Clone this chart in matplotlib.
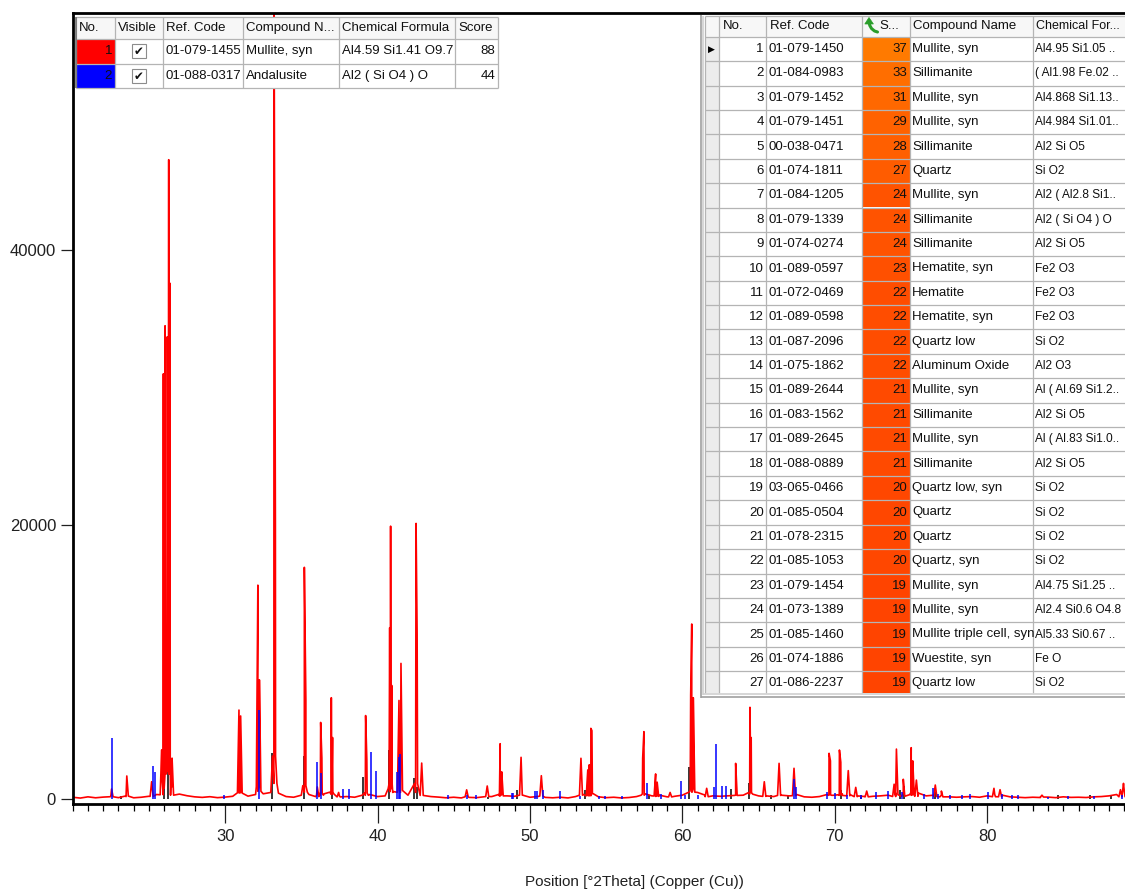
import numpy as np
import matplotlib
matplotlib.use("Agg")
import matplotlib.pyplot as plt
from matplotlib.patches import Rectangle, Polygon
from matplotlib.ticker import MultipleLocator, FixedLocator

# ------------------------------------------------------------------ data
# background samples of the observed scan (every 0.5 deg from 20 to 89)
base_y = [150, 90, 180, 110, 160, 200, 120, 200, 110, 150, 220, 350, 800, 900,
          380, 260, 180, 140, 190, 120, 160, 220, 600, 230, 350, 400, 500, 450,
          200, 150, 300, 350, 300, 400, 350, 250, 200, 150, 300, 350, 200, 250,
          500, 500, 300, 500, 300, 200, 160, 110, 150, 100, 140, 120, 180, 200,
          250, 250, 220, 300, 150, 200, 140, 110, 150, 100, 200, 350, 400, 180,
          120, 150, 100, 130, 200, 350, 250, 300, 180, 220, 300, 600, 500, 300,
          250, 220, 250, 300, 300, 500, 250, 250, 200, 300, 250, 350, 180, 150,
          200, 350, 300, 400, 350, 250, 200, 220, 250, 300, 450, 500, 500, 450,
          250, 300, 300, 180, 150, 180, 200, 150, 250, 350, 300, 180, 150, 120,
          150, 130, 160, 120, 180, 140, 150, 130, 180, 200, 250, 350, 600]
base_x = np.arange(20.0, 89.01, 0.5)

# observed peaks (position deg 2theta, counts)
obs_pos = [22.55, 23.55, 25.18, 25.84, 25.95, 26.06, 26.21, 26.30, 26.38, 26.52,
           30.91, 31.02, 32.15, 32.25, 33.21, 33.30, 35.20, 35.30, 36.05, 36.27,
           36.35, 36.97, 37.05, 37.45, 39.22, 39.30, 40.80, 40.86, 40.93, 41.41,
           41.54, 42.53, 42.60, 42.90, 45.85, 47.20, 48.05, 48.15, 49.42, 50.75,
           53.35, 53.80, 53.90, 54.00, 54.07, 57.40, 57.48, 58.25, 58.35, 59.20,
           60.55, 60.62, 60.72, 61.60, 63.50, 64.44, 64.52, 65.38, 66.35, 67.33,
           69.63, 69.72, 70.31, 70.40, 70.89, 71.38, 72.10, 73.90, 74.05, 74.50,
           75.02, 75.12, 75.36, 76.60, 77.00, 80.45, 80.85, 83.60, 88.75, 88.95]
obs_cnt = [750, 1700, 1280, 3600, 31000, 34500, 33700, 46600, 37600, 3000,
           6500, 6070, 15600, 8700, 60000, 20100, 16900, 7200, 900, 5600,
           3000, 7400, 4500, 500, 6100, 2900, 12500, 19900, 8300, 7200,
           9900, 20100, 12000, 2640, 690, 970, 4050, 2000, 3060, 1720,
           2990, 2140, 2500, 5170, 5000, 2990, 4930, 1850, 1250, 500,
           7600, 12770, 7400, 800, 2620, 6700, 4500, 1280, 2620, 2260,
           3350, 2800, 3590, 2700, 2090, 870, 600, 1100, 3660, 1460,
           3760, 2800, 1400, 1040, 600, 800, 700, 300, 700, 1160]

# reference 2: Andalusite (blue sticks)
and_pos = [22.60, 25.25, 25.40, 29.95, 32.20, 36.03, 36.30, 37.72, 38.13, 39.57,
           39.90, 41.26, 41.41, 41.48, 44.60, 45.85, 46.46, 48.80, 48.90, 50.34,
           50.45, 50.88, 51.98, 53.29, 54.56, 54.93, 56.02, 57.66, 58.60, 59.92,
           60.20, 61.00, 62.10, 62.21, 62.58, 62.87, 67.30, 67.45, 69.47, 70.00,
           70.78, 71.70, 72.74, 73.52, 74.44, 75.88, 76.47, 76.79, 77.58, 78.37,
           78.89, 80.06, 80.98, 81.63, 82.02, 84.00, 85.30, 86.99, 88.82]
and_cnt = [4490, 2430, 2010, 300, 6500, 2700, 1900, 750, 750, 3440,
           2090, 2000, 3080, 3300, 300, 350, 300, 480, 480, 630,
           630, 680, 630, 250, 250, 250, 250, 1170, 400, 1360,
           300, 300, 920, 4030, 990, 990, 1480, 900, 500, 450,
           300, 300, 500, 600, 500, 400, 800, 400, 300, 300,
           400, 500, 400, 300, 300, 200, 250, 250, 350]

# reference 1: Mullite (dark sticks)
mul_pos = [23.20, 25.97, 26.27, 33.10, 35.16, 37.00, 39.07, 40.75, 42.42, 42.57,
           47.27, 49.17, 53.64, 57.80, 60.46, 63.18, 64.38, 65.82, 66.95, 70.39,
           71.70, 74.31, 74.57, 76.58, 84.63, 86.72, 88.16]
mul_cnt = [250, 5000, 6000, 3400, 3150, 820, 1650, 3600, 1550, 920,
           200, 680, 680, 300, 2380, 730, 1190, 350, 300, 680,
           300, 700, 1000, 500, 300, 300, 300]

y_ticks = [0, 20000, 40000]
x_ticks = [30, 40, 50, 60, 70, 80]
x_label = "Position [°2Theta] (Copper (Cu))"

# accepted phases table
sel_no = [1, 2]
sel_ref = ["01-079-1455", "01-088-0317"]
sel_name = ["Mullite, syn", "Andalusite"]
sel_formula = ["Al4.59 Si1.41 O9.7", "Al2 ( Si O4 ) O"]
sel_score = [88, 44]
sel_headers = ["No.", "Visible", "Ref. Code", "Compound N...", "Chemical Formula", "Score"]

# candidate list table
cand_ref = ["01-079-1450", "01-084-0983", "01-079-1452", "01-079-1451", "00-038-0471",
            "01-074-1811", "01-084-1205", "01-079-1339", "01-074-0274", "01-089-0597",
            "01-072-0469", "01-089-0598", "01-087-2096", "01-075-1862", "01-089-2644",
            "01-083-1562", "01-089-2645", "01-088-0889", "03-065-0466", "01-085-0504",
            "01-078-2315", "01-085-1053", "01-079-1454", "01-073-1389", "01-085-1460",
            "01-074-1886", "01-086-2237"]
cand_score = [37, 33, 31, 29, 28, 27, 24, 24, 24, 23, 22, 22, 22, 22, 21, 21, 21, 21,
              20, 20, 20, 20, 19, 19, 19, 19, 19]
cand_name = ["Mullite, syn", "Sillimanite", "Mullite, syn", "Mullite, syn", "Sillimanite",
             "Quartz", "Mullite, syn", "Sillimanite", "Sillimanite", "Hematite, syn",
             "Hematite", "Hematite, syn", "Quartz low", "Aluminum Oxide", "Mullite, syn",
             "Sillimanite", "Mullite, syn", "Sillimanite", "Quartz low, syn", "Quartz",
             "Quartz", "Quartz, syn", "Mullite, syn", "Mullite, syn",
             "Mullite triple cell, syn", "Wuestite, syn", "Quartz low"]
cand_formula = ["Al4.95 Si1.05 ..", "( Al1.98 Fe.02 ..", "Al4.868 Si1.13..",
                "Al4.984 Si1.01..", "Al2 Si O5", "Si O2", "Al2 ( Al2.8 Si1..",
                "Al2 ( Si O4 ) O", "Al2 Si O5", "Fe2 O3", "Fe2 O3", "Fe2 O3", "Si O2",
                "Al2 O3", "Al ( Al.69 Si1.2..", "Al2 Si O5", "Al ( Al.83 Si1.0..",
                "Al2 Si O5", "Si O2", "Si O2", "Si O2", "Si O2", "Al4.75 Si1.25 ..",
                "Al2.4 Si0.6 O4.8", "Al5.33 Si0.67 ..", "Fe O", "Si O2"]
cand_headers = ["No.", "Ref. Code", "S...", "Compound Name", "Chemical For..."]

# ------------------------------------------------------------------ figure
W, H = 1125, 890
fig = plt.figure(figsize=(W / 100, H / 100), dpi=100)
fig.patch.set_facecolor("white")

ax_l, ax_r, ax_t, ax_b = 72.7, 1125, 13, 804.3
ax = fig.add_axes([ax_l / W, 1 - ax_b / H, (ax_r - ax_l) / W, (ax_b - ax_t) / H])
ax.set_xlim(20, 20 + (ax_r - ax_l) / 15.24)
ax.set_ylim(-364, 57290)

# observed scan as one polyline: background samples + narrow peak profiles
hw = 0.1
pts = list(zip(base_x, base_y))
for p, h in zip(obs_pos, obs_cnt):
    foot = 150 + 0.05 * h
    pts += [(p - hw, foot), (p, h), (p + hw, foot)]
pts.sort(key=lambda t: t[0])
px, py = zip(*pts)

ax.vlines(mul_pos, 0, mul_cnt, color="#000000", lw=1.1, zorder=1.5)
ax.plot(px, py, color="#ff0000", lw=1.2, zorder=2)
ax.vlines(and_pos, 0, and_cnt, color="#0000ff", lw=1.1, zorder=3)

for s in ["left", "bottom", "top"]:
    ax.spines[s].set_linewidth(2.0)
    ax.spines[s].set_color("black")
ax.spines["right"].set_visible(False)

ax.xaxis.set_major_locator(FixedLocator(x_ticks))
ax.xaxis.set_minor_locator(MultipleLocator(1))
ax.yaxis.set_major_locator(FixedLocator(y_ticks))
ax.set_xticklabels([str(v) for v in x_ticks])
ax.set_yticklabels([str(v) for v in y_ticks])
ax.tick_params(axis="x", which="major", direction="out", length=14, width=0.9,
               labelsize=12, pad=4, colors="#202020")
ax.tick_params(axis="x", which="minor", direction="out", length=5, width=0.9)
ax.tick_params(axis="y", which="major", direction="out", length=9, width=0.9,
               labelsize=12, pad=3, colors="#202020")
for lab in ax.get_xticklabels() + ax.get_yticklabels():
    lab.set_fontfamily("Liberation Sans")

fig.text(634 / W, 1 - 882 / H, x_label, ha="center", va="center", fontsize=11,
         family="Liberation Sans", color="#202020")

# ------------------------------------------------------------------ tables overlay
ov = fig.add_axes([0, 0, 1, 1], zorder=10)
ov.set_xlim(0, W)
ov.set_ylim(H, 0)
ov.axis("off")
ov.patch.set_alpha(0)

GRID = "#b4b4b4"
FONT = dict(family="Liberation Sans", fontsize=9.5, color="#101010")


def rect(x0, y0, x1, y1, fc, ec="none", lw=0.8, z=1):
    ov.add_patch(Rectangle((x0, y0), x1 - x0, y1 - y0, facecolor=fc, edgecolor=ec,
                           lw=lw, zorder=z))


def line(xs, ys, c=GRID, lw=0.9, z=3):
    ov.plot(xs, ys, color=c, lw=lw, zorder=z, solid_capstyle="butt")


def cell_text(x, y, s, ha, x0, x1, y0, y1, **kw):
    clip = Rectangle((x0, y0), x1 - x0, y1 - y0, transform=ov.transData)
    d = dict(FONT)
    d.update(kw)
    t = ov.text(x, y, s, ha=ha, va="center", zorder=5, **d)
    t.set_clip_path(clip)


# ---- left table (accepted references)
lc = [76, 115, 163, 242.5, 339, 455, 498]
lr = [17, 39, 63.5, 88]
rect(lc[0], lr[0], lc[-1], lr[-1], "white", z=1)
rect(lc[0], lr[0], lc[-1], lr[1], "#f7f7f7", z=1)
row_cols = ["#ff0000", "#0000ff"]
for i in range(2):
    rect(lc[0], lr[i + 1], lc[1], lr[i + 2], row_cols[i], z=2)
for x in lc:
    line([x, x], [lr[0], lr[-1]])
for y in lr:
    line([lc[0], lc[-1]], [y, y])
line([lc[0], lc[0]], [lr[0], lr[-1]], c="#707070", lw=1.2)
for j, h in enumerate(sel_headers):
    cell_text(lc[j] + 3, (lr[0] + lr[1]) / 2, h, "left", lc[j], lc[j + 1], lr[0], lr[1])
for i in range(2):
    yc = (lr[i + 1] + lr[i + 2]) / 2
    y0, y1 = lr[i + 1], lr[i + 2]
    cell_text(lc[1] - 3, yc, str(sel_no[i]), "right", lc[0], lc[1], y0, y1)
    cx = (lc[1] + lc[2]) / 2
    rect(cx - 7, yc - 7, cx + 7, yc + 7, "white", ec="#8c8c8c", lw=0.8, z=4)
    ov.text(cx, yc + 0.5, "\u2714", ha="center", va="center", fontsize=8.5,
            family="DejaVu Sans", color="#101010", zorder=5)
    cell_text(lc[2] + 3, yc, sel_ref[i], "left", lc[2], lc[3], y0, y1)
    cell_text(lc[3] + 3, yc, sel_name[i], "left", lc[3], lc[4], y0, y1)
    cell_text(lc[4] + 3, yc, sel_formula[i], "left", lc[4], lc[5], y0, y1)
    cell_text(lc[6] - 3, yc, str(sel_score[i]), "right", lc[5], lc[6], y0, y1)

# ---- right table (candidate list)
rc = [705, 718.5, 765.7, 862.3, 910, 1033.3, 1135]
hdr_top, hdr_bot = 16, 36.7
pitch = 24.4
tab_bot = 692.7
rect(699, 14.5, 1135, 697.5, "white", ec="none", z=1)
rect(rc[0], hdr_top, rc[-1], hdr_bot, "#f7f7f7", z=1)
rect(rc[0], hdr_bot, rc[1], tab_bot, "#ececec", z=1)

for k in range(len(cand_ref)):
    y0 = hdr_bot + k * pitch
    y1 = min(y0 + pitch, tab_bot)
    s = cand_score[k]
    g = int(round(68 + (s - 19) * (122 - 68) / (37 - 19)))
    rect(rc[3], y0, rc[4], y1, "#%02x%02x00" % (255, g), z=2)

# grid
for x in rc[:-1]:
    line([x, x], [hdr_top, tab_bot])
line([rc[0], rc[-1]], [hdr_top, hdr_top])
line([rc[0], rc[-1]], [hdr_bot, hdr_bot])
for k in range(len(cand_ref)):
    yb = hdr_bot + (k + 1) * pitch
    if yb < tab_bot:
        line([rc[0], rc[-1]], [yb, yb])
# frame
line([700.5, 700.5], [14.5, 697.5], c="#a0a0a0", lw=1.2)
line([703, 703], [16, 694.5], c="#d0d0d0", lw=1.2)
line([700.5, 1135], [697, 697], c="#a0a0a0", lw=1.2)
line([703, 1135], [694.3, 694.3], c="#d0d0d0", lw=1.2)

hy = (hdr_top + hdr_bot) / 2
cell_text(rc[1] + 4, hy, cand_headers[0], "left", rc[1], rc[2], hdr_top, hdr_bot)
cell_text(rc[2] + 4, hy, cand_headers[1], "left", rc[2], rc[3], hdr_top, hdr_bot)
cell_text(rc[3] + 17, hy, cand_headers[2], "left", rc[3], rc[4], hdr_top, hdr_bot)
cell_text(rc[4] + 3, hy, cand_headers[3], "left", rc[4], rc[5], hdr_top, hdr_bot)
cell_text(rc[5] + 3, hy, cand_headers[4], "left", rc[5], rc[6], hdr_top, hdr_bot,
          fontsize=9)

# sort icon: green curved arrow pointing up
GREEN = "#2a9d2a"
ov.plot([877.5, 874.5, 871.5, 869.8, 869.2], [32.0, 31.0, 28.5, 25.5, 23.0],
        color=GREEN, lw=2.2, solid_capstyle="round", zorder=6)
ov.add_patch(Polygon([[869.0, 17.5], [864.8, 24.0], [873.4, 24.0]], closed=True,
                     facecolor=GREEN, edgecolor=GREEN, lw=0.5, zorder=6))

for k in range(len(cand_ref)):
    y0 = hdr_bot + k * pitch
    y1 = min(y0 + pitch, tab_bot)
    yc = y0 + pitch / 2
    cell_text(rc[2] - 2, yc, str(k + 1), "right", rc[1], rc[2], y0, y1)
    cell_text(rc[2] + 3, yc, cand_ref[k], "left", rc[2], rc[3], y0, y1)
    cell_text(rc[4] - 3, yc, str(cand_score[k]), "right", rc[3], rc[4], y0, y1)
    cell_text(rc[4] + 2, yc, cand_name[k], "left", rc[4], rc[5], y0, y1)
    cell_text(rc[5] + 2, yc, cand_formula[k], "left", rc[5], rc[6], y0, y1,
              fontsize=8.6)
ov.text((rc[0] + rc[1]) / 2, hdr_bot + pitch / 2, "\u25B6", ha="center", va="center",
        fontsize=6.5, family="DejaVu Sans", color="black", zorder=6)

fig.savefig("out.png", dpi=100, facecolor="white")
